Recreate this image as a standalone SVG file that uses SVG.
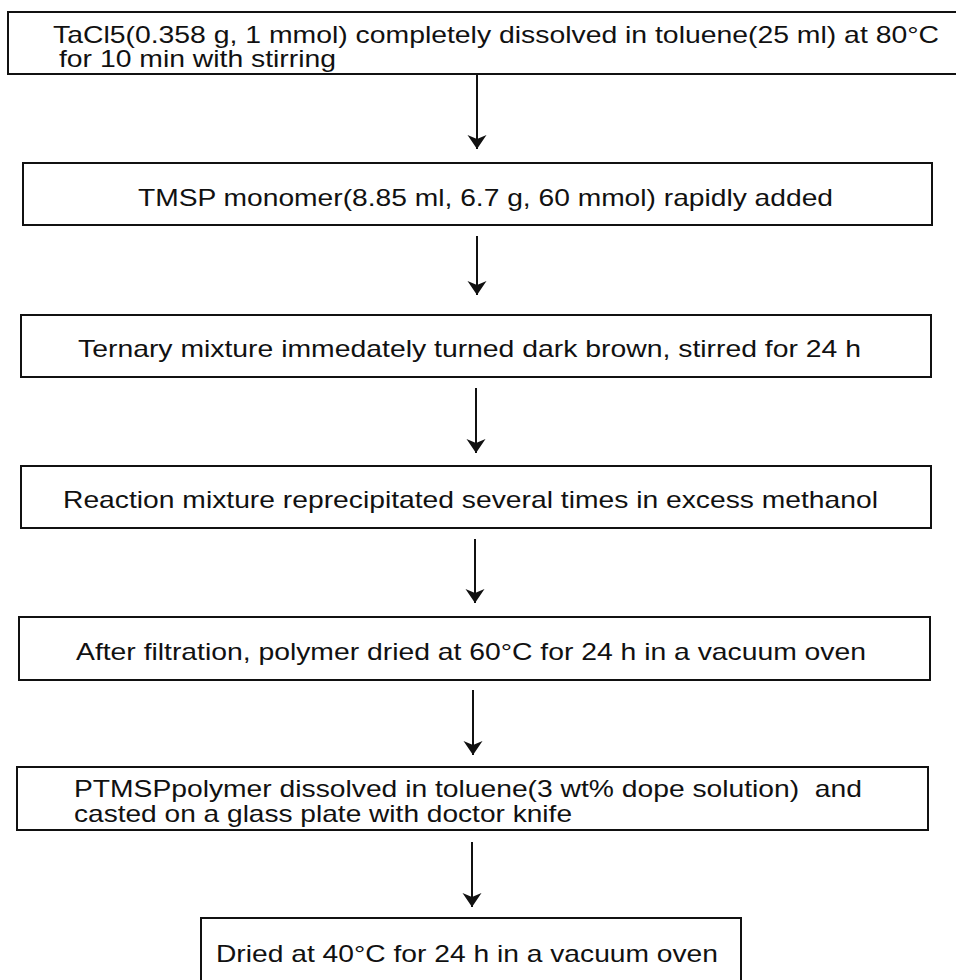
<svg xmlns="http://www.w3.org/2000/svg" width="956" height="980" viewBox="0 0 956 980">
<style>
.box{fill:#fff;stroke:#111;stroke-width:2}
.t{font-family:"Liberation Sans",Arial,sans-serif;font-size:24px;fill:#111}
.c{stroke:#111;stroke-width:2;fill:none}
</style>
<defs>
<marker id="ah" markerUnits="userSpaceOnUse" markerWidth="16" markerHeight="20" refX="14" refY="9.5" orient="auto" viewBox="0 0 16 20">
<path d="M0,0 L14,9.5 L0,19 L4,9.5 Z" fill="#111"/>
</marker>
</defs>
<rect width="956" height="980" fill="#fff"/>
<g id="n1">
<rect class="box" x="8" y="12" width="960" height="62"/>
<text class="t" x="53" y="43" textLength="886" lengthAdjust="spacingAndGlyphs">TaCl5(0.358 g, 1 mmol) completely dissolved in toluene(25 ml) at 80°C</text>
<text class="t" x="59" y="67" textLength="277" lengthAdjust="spacingAndGlyphs">for 10 min with stirring</text>
</g>
<g id="n2">
<rect class="box" x="23" y="163" width="909" height="62"/>
<text class="t" x="138" y="206" textLength="695" lengthAdjust="spacingAndGlyphs">TMSP monomer(8.85 ml, 6.7 g, 60 mmol) rapidly added</text>
</g>
<g id="n3">
<rect class="box" x="21" y="315" width="910" height="62"/>
<text class="t" x="78" y="357" textLength="783" lengthAdjust="spacingAndGlyphs">Ternary mixture immedately turned dark brown, stirred for 24 h</text>
</g>
<g id="n4">
<rect class="box" x="21" y="466" width="910" height="62"/>
<text class="t" x="63" y="508" textLength="815" lengthAdjust="spacingAndGlyphs">Reaction mixture reprecipitated several times in excess methanol</text>
</g>
<g id="n5">
<rect class="box" x="19" y="617" width="911" height="63"/>
<text class="t" x="76" y="660" textLength="790" lengthAdjust="spacingAndGlyphs">After filtration, polymer dried at 60°C for 24 h in a vacuum oven</text>
</g>
<g id="n6">
<rect class="box" x="17" y="767" width="911" height="63"/>
<text class="t" x="74" y="797" textLength="788" lengthAdjust="spacingAndGlyphs">PTMSPpolymer dissolved in toluene(3 wt% dope solution)&#160; and</text>
<text class="t" x="74" y="822" textLength="498" lengthAdjust="spacingAndGlyphs">casted on a glass plate with doctor knife</text>
</g>
<g id="n7">
<rect class="box" x="201" y="918" width="540" height="70"/>
<text class="t" x="216" y="962" textLength="502" lengthAdjust="spacingAndGlyphs">Dried at 40°C for 24 h in a vacuum oven</text>
</g>
<g id="connectors">
<line class="c" x1="477" y1="74" x2="477" y2="149" marker-end="url(#ah)"/>
<line class="c" x1="477" y1="236" x2="477" y2="295" marker-end="url(#ah)"/>
<line class="c" x1="476" y1="388" x2="476" y2="453" marker-end="url(#ah)"/>
<line class="c" x1="475" y1="539" x2="475" y2="603" marker-end="url(#ah)"/>
<line class="c" x1="473" y1="690" x2="473" y2="755" marker-end="url(#ah)"/>
<line class="c" x1="472" y1="842" x2="472" y2="907" marker-end="url(#ah)"/>
</g>
</svg>
